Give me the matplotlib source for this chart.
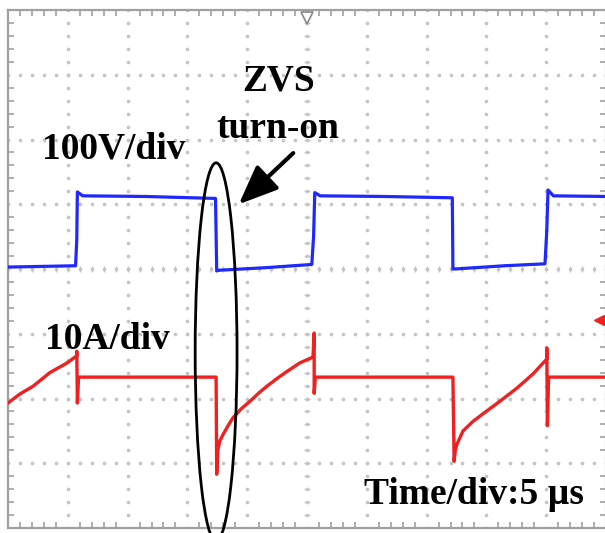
"""Oscilloscope capture: ZVS turn-on waveforms (voltage & current)"""

import numpy as np
import matplotlib
matplotlib.use("Agg")
import matplotlib.pyplot as plt
from matplotlib.patches import Ellipse

plt.rcParams["font.family"] = ["Liberation Serif", "DejaVu Serif"]

# screen is 10 x 8 divisions, y = 0 on centre line
N_XDIV = 10
N_YDIV = 8

# blue: drain-source voltage (div)
t_blue = [0.0, 1.13, 1.15, 1.16, 1.25, 2.3, 3.47, 3.49, 3.52, 4.3, 5.08,
          5.11, 5.13, 5.22, 6.3, 7.43, 7.44, 7.47, 8.3, 8.98, 9.01, 9.03,
          9.12, 10.0]
v_blue = [0.03, 0.05, 0.45, 1.19, 1.13, 1.12, 1.09, -0.03, -0.02, 0.02,
          0.07, 0.5, 1.18, 1.13, 1.12, 1.10, 0.0, 0.0, 0.05, 0.08, 0.6,
          1.22, 1.13, 1.12]

# red: switch current (div)
t_red = [0.0, 0.20, 0.42, 0.70, 0.99, 1.15, 1.15, 1.16, 1.18, 3.48, 3.49,
         3.51, 3.54, 3.60, 3.68, 3.76, 3.90, 4.05, 4.20, 4.33, 4.50, 4.67,
         4.88, 5.10, 5.12, 5.12, 5.14, 7.44, 7.46, 7.48, 7.51, 7.56, 7.61,
         7.78, 8.01, 8.23, 8.51, 8.78, 9.01, 9.01, 9.02, 9.04, 10.0]
i_red = [-2.07, -1.93, -1.81, -1.60, -1.45, -1.34, -1.27, -2.07, -1.67,
         -1.67, -3.17, -2.80, -2.66, -2.55, -2.42, -2.30, -2.16, -2.04,
         -1.91, -1.81, -1.69, -1.58, -1.45, -1.36, -0.99, -1.92, -1.67,
         -1.67, -2.97, -2.80, -2.70, -2.60, -2.50, -2.35, -2.19, -2.04,
         -1.84, -1.62, -1.39, -1.22, -2.42, -1.67, -1.67]

# screen markers (trigger position, channel offset)
trig_x, trig_y = 5.0, 3.88
ch_x, ch_y = 9.88, -0.79

# annotations
ellipse_xy = (3.48, -1.28)
ellipse_wh = (0.70, 5.84)
arrow_tail = (4.77, 1.79)
arrow_tip = (3.86, 1.00)

BLUE = "#1e28ff"
RED = "#f02020"
GRID = "#c4c4c4"
FRAME = "#a0a0a0"

fig = plt.figure(figsize=(6.05, 5.33), dpi=100)
fig.patch.set_facecolor("white")
ax = fig.add_axes([8 / 605, 5 / 533, 598 / 605, 518 / 533])
ax.set_xlim(0, N_XDIV)
ax.set_ylim(-N_YDIV / 2, N_YDIV / 2)

# dotted graticule
fine = np.arange(0, N_XDIV + 0.01, 0.2)
fine_y = np.arange(-N_YDIV / 2, N_YDIV / 2 + 0.01, 0.2)
for gy in range(-3, 4):
    ax.plot(fine, np.full_like(fine, gy), ls="none", marker="o", ms=1.6,
            color=GRID, zorder=1)
for gx in range(1, N_XDIV):
    ax.plot(np.full_like(fine_y, gx), fine_y, ls="none", marker="o", ms=1.6,
            color=GRID, zorder=1)
# centre cross ticks
ax.plot(fine, np.zeros_like(fine), ls="none", marker="|", ms=5,
        color=GRID, zorder=1)
ax.plot(np.full_like(fine_y, N_XDIV / 2), fine_y, ls="none", marker="_",
        ms=5, color=GRID, zorder=1)

for s in ax.spines.values():
    s.set_color(FRAME)
    s.set_linewidth(1.6)
ax.set_xticks(range(0, N_XDIV + 1))
ax.set_yticks(range(-4, 5))
ax.set_xticks(fine, minor=True)
ax.set_yticks(fine_y, minor=True)
ax.tick_params(which="both", direction="in", top=True, right=True,
               labelbottom=False, labelleft=False, color=FRAME, width=1.2)
ax.tick_params(which="major", length=0)
ax.tick_params(which="minor", length=4)

# traces
ax.plot(t_blue, v_blue, color=BLUE, lw=2.3, zorder=3)
ax.plot(t_red, i_red, color=RED, lw=2.4, zorder=3)

# markers on screen edge
ax.plot(trig_x, trig_y, marker="v", ms=8, mfc="none", mec="#888888",
        mew=1.2, zorder=4)
ax.plot(ch_x, ch_y, marker="<", ms=7, color=RED, zorder=4, clip_on=False)

# ellipse and arrow
ax.add_patch(Ellipse(ellipse_xy, ellipse_wh[0], ellipse_wh[1], fill=False,
                     ec="black", lw=2.0, zorder=5, clip_on=False))
ax.annotate("", xy=arrow_tip, xytext=arrow_tail,
            arrowprops=dict(arrowstyle="-|>,head_length=0.6,head_width=0.25",
                            color="black", lw=3, mutation_scale=40,
                            shrinkA=0, shrinkB=0),
            zorder=6)

# labels
txt = dict(fontsize=27, fontweight="bold", color="black", ha="center",
           va="baseline", zorder=6)
ax.text(4.52, 2.75, "ZVS", **txt)
ax.text(4.51, 2.02, "turn-on", **txt)
ax.text(1.77, 1.70, "100V/div", **txt)
ax.text(1.66, -1.24, "10A/div", **txt)
ax.text(7.79, -3.63, "Time/div:5 µs", **txt)

fig.savefig("out.png", dpi=100, facecolor="white")
plt.close(fig)
